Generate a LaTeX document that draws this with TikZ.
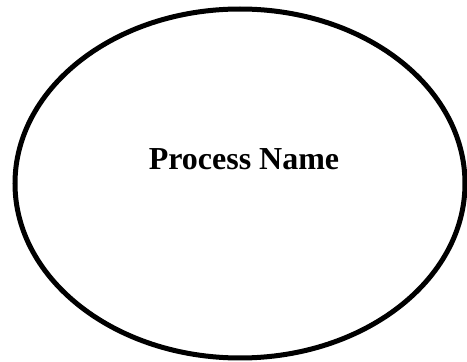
\documentclass[tikz,border=0pt]{standalone}
\usepackage{fontspec}
\setmainfont{Liberation Serif}
\usetikzlibrary{shapes.geometric}

\begin{document}
\begin{tikzpicture}[x=1pt,y=1pt]
      \tikzset{
        procbox/.style={ellipse,draw,line width=5pt,inner sep=0pt,outer sep=0pt,
          minimum width=450pt,minimum height=349pt},
        proclabel/.style={font=\fontsize{32}{38}\selectfont\bfseries,inner sep=0pt}
      }
      \useasboundingbox (0,0) rectangle (467,362);

      \node[procbox] (proc) at (240,178.5) {};
      \node[proclabel,anchor=base] (name) at (244,192) {Process Name};
    \end{tikzpicture}
\end{document}
